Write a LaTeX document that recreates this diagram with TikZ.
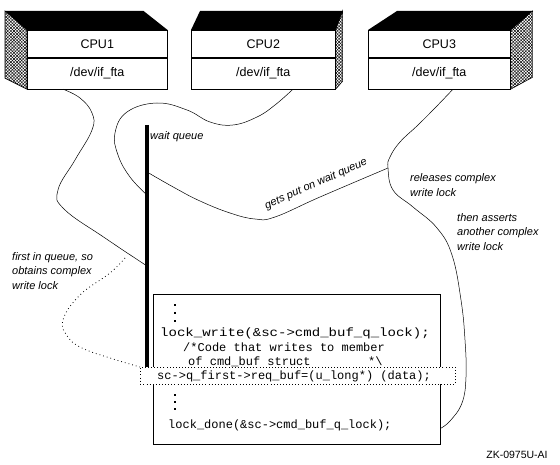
\documentclass[tikz,border=0pt]{standalone}
\usepackage{fontspec}
\setmainfont{Liberation Sans}
\setsansfont{Liberation Sans}
\setmonofont{Liberation Mono}
\newfontfamily\widemono[FakeStretch=1.17]{Liberation Mono}
\usetikzlibrary{calc,patterns.meta}
\tikzset{
  face/.style={draw=black,line width=0.6pt,fill=white,inner sep=0pt,font=\fontsize{12.5}{14}\selectfont},
  side/.style={draw=black,line width=0.6pt,preaction={pattern={Lines[angle=45,distance=2.2pt,line width=0.45pt]}},pattern={Lines[angle=-45,distance=2.2pt,line width=0.45pt]}},
  wire/.style={draw=black,line width=0.5pt},
  dots/.style={draw=black,line width=0.8pt,dash pattern=on 0.8pt off 3pt},
  hilite/.style={draw=black,line width=0.7pt,dash pattern=on 0.8pt off 2.3pt,fill=white,inner sep=0pt},
  codeline/.style={anchor=west,inner sep=0pt,font=\ttfamily\fontsize{12}{14}\selectfont},
  note/.style={anchor=west,align=left,inner sep=0pt,font=\itshape\fontsize{11}{14.5}\selectfont},
  queue/.style={line width=3.5pt},
}

\begin{document}
\begin{tikzpicture}[x=1pt,y=-1pt]
\useasboundingbox (0,0) rectangle (560,465);
% CPUs with their drivers
\foreach \i/\x/\w/\dl/\dr/\s/\ds/\b in {1/27/140/-22/-24/west/-22/-11, 2/191/144/9/7/east/7/-8, 3/368/142/29/22/east/22/-12}{
  \node[face,anchor=north west,minimum width=\w pt,minimum height=27pt] (cpu\i) at (\x,30) {CPU\i};
  \node[face,anchor=north,minimum width=\w pt,minimum height=31pt] (dev\i) at (cpu\i.south) {/dev/if\_fta};
  \fill[black] (cpu\i.north west) -- ++(\dl,-19) -- ($(cpu\i.north east)+(\dr,-19)$) -- (cpu\i.north east) -- cycle;
  \draw[side] (cpu\i.north \s) -- ++(\ds,-19) -- ($(dev\i.south \s)+(\ds,\b)$) -- (dev\i.south \s) -- cycle;
}
\coordinate (out1) at ([xshift=36pt]dev1.south west);
\coordinate (out2) at ([xshift=102pt]dev2.south west);
\coordinate (out3) at ([xshift=85pt]dev3.south west);

% code listing
\node[draw,line width=0.6pt,minimum width=287pt,minimum height=150pt,anchor=north west,inner sep=0pt] (code) at (153,294) {};
\node[hilite,minimum width=315pt,minimum height=17pt,anchor=north west] (hl) at (140,367) {};
\node[codeline,font=\widemono\fontsize{12}{14}\selectfont] (lw) at (160,333) {lock\_write(\&sc->cmd\_buf\_q\_lock);};
\node[codeline] (cm1) at (183,347.5) {/*Code that writes to member};
\node[codeline] (cm2) at (188,361.5) {of cmd\_buf struct\ \ \ \ \ \ \ \ *\textbackslash};
\node[codeline] (req) at (157,376) {sc->q\_first->req\_buf=(u\_long*) (data);};
\node[codeline] (ld) at (168,425) {lock\_done(\&sc->cmd\_buf\_q\_lock);};
\foreach \y in {305,313,321,395,402,409}
  \fill (173.7,\y-1.3) rectangle ++(2.6,2.6);
\coordinate (done) at ([yshift=-59pt]code.east);

% wait queue
\coordinate (qtop) at (147,125);
\coordinate (qbot) at (hl.north west -| qtop);
\draw[queue] (qtop) -- (qbot);
\coordinate (in1) at (147,266);
\coordinate (in2) at (147,195);
\coordinate (put) at (147,172);
\coordinate (rel) at (388,168);
\coordinate (fq0) at (125,258);

% paths of the three CPUs
\draw[wire] plot[smooth,tension=0.7] coordinates {(out1) (80,98) (92,113) (92,130) (75,160) (58,190) (64,209) (105,238) (in1)};
\draw[wire] plot[smooth,tension=0.7] coordinates {(out2) (275,105) (257,117) (233,125) (210,122) (187,110) (157,103) (127,112) (115,133) (118,155) (130,177) (in2)};
\draw[wire] plot[smooth,tension=0.7] coordinates {(put) (175,188) (200,201) (230,213) (255,219) (275,217) (320,197) (rel)};
\draw[wire] plot[smooth,tension=0.7] coordinates {(out3) (435,108) (418,125) (400,142) (390,157) (rel) (393,190) (413,207) (437,228) (452,255) (461,300) (465,340) (466,377) (462,403) (450,421) (done)};
\draw[dots] plot[smooth,tension=0.7] coordinates {(fq0) (110,273) (80,295) (63,320) (68,337) (82,348) (110,358) (hl.north west)};

% labels
\node[note] (wq) at (150,137) {wait queue};
\node[note] (fq) at (12,271) {first in queue, so\\obtains complex\\write lock};
\node[note] (rl) at (410,185) {releases complex\\write lock};
\node[note] (aw) at (457,232) {then asserts\\another complex\\write lock};
\node[note,anchor=center,rotate=24] (gp) at (316,184) {gets put on wait queue};
\node[font=\fontsize{10.5}{12}\selectfont] (zk) at (517,455) {ZK-0975U-AI};
\end{tikzpicture}
\end{document}
